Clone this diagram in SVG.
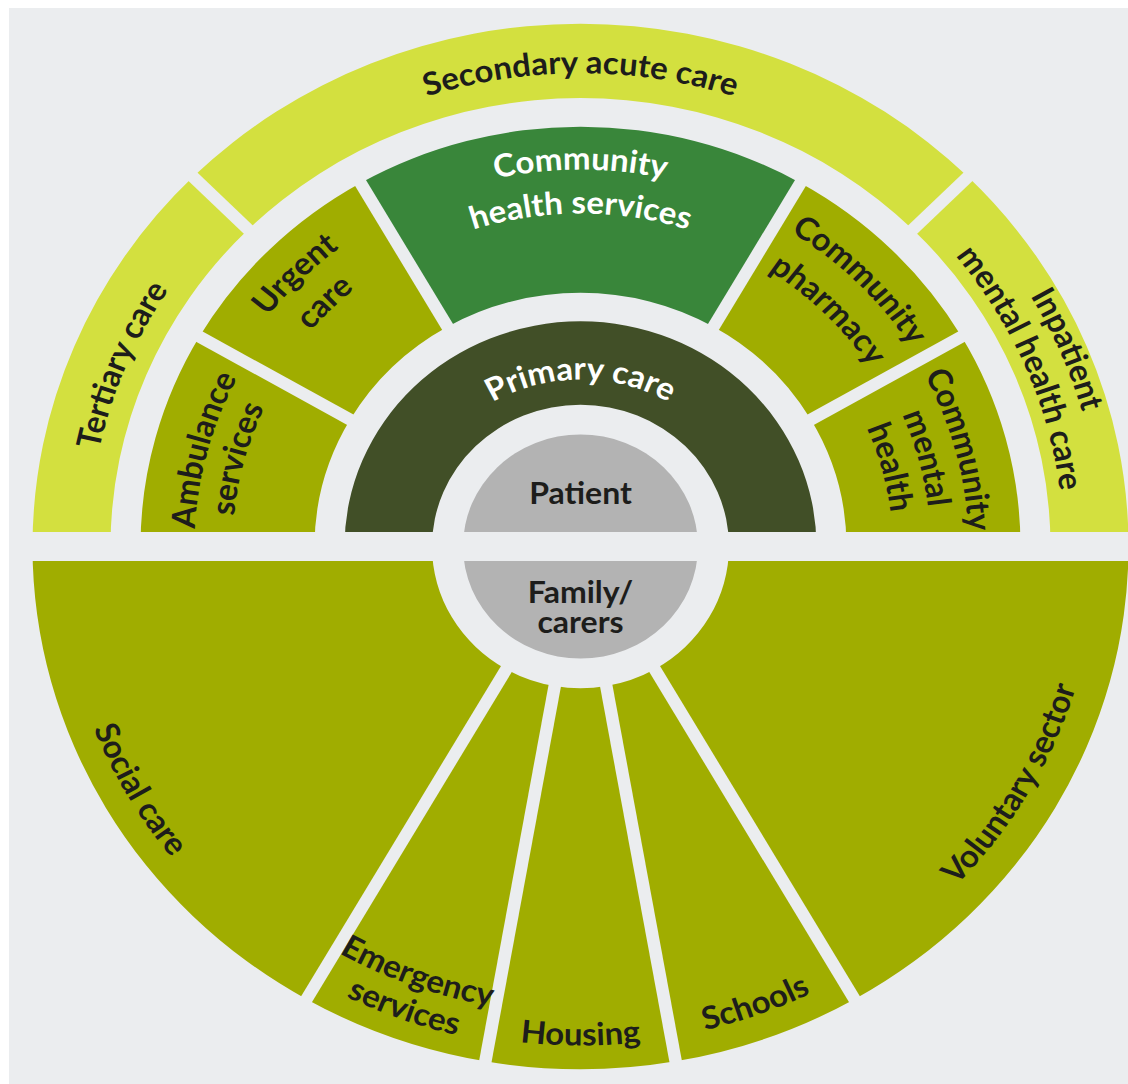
<svg xmlns="http://www.w3.org/2000/svg" width="1128" height="1084" viewBox="0 0 1128 1084">
<style>
.bg{fill:#ebedef}
.outer{fill:#d3e03f}
.olive{fill:#a0ad00}
.chs{fill:#39863a}
.prim{fill:#414f27}
.core{fill:#b3b3b3}
.lbl{font-family:Lato,"Liberation Sans",sans-serif;font-weight:700;font-size:33px;fill:#1d1d1b;text-anchor:middle}
.core-lbl{font-size:32px}
.w{fill:#ffffff}
</style>
<defs>
<mask id="gaps" maskUnits="userSpaceOnUse" x="-620" y="-620" width="1240" height="1240">
<rect x="-620" y="-620" width="1240" height="1240" fill="#fff"/>
<rect x="-620" y="-15.2" width="1240" height="30.4" fill="#000"/>
<g stroke="#000" stroke-width="12.5">
<line x1="216.51" y1="-125" x2="394.04" y2="-227.5"/>
<line x1="125" y1="-216.51" x2="227.5" y2="-394.04"/>
<line x1="-125" y1="-216.51" x2="-227.5" y2="-394.04"/>
<line x1="-216.51" y1="-125" x2="-394.04" y2="-227.5"/>
<line x1="321.73" y1="-321.73" x2="403.05" y2="-403.05"/>
<line x1="-321.73" y1="-321.73" x2="-403.05" y2="-403.05"/>
<line x1="66.5" y1="115.18" x2="285" y2="493.63"/>
<line x1="23.10" y1="130.98" x2="98.98" y2="561.34"/>
<line x1="-23.10" y1="130.98" x2="-98.98" y2="561.34"/>
<line x1="-66.5" y1="115.18" x2="-285" y2="493.63"/>
</g>
</mask>
<path id="p-sec" d="M -318.82 -379.96 A 496 496 0 0 1 318.82 -379.96"/>
<path id="p-ter" d="M -487.79 64.22 A 492 492 0 0 1 -299.51 -390.33"/>
<path id="p-inp1" d="M 276.09 -441.83 A 521 521 0 0 1 509.61 108.32"/>
<path id="p-inp2" d="M 255.95 -409.61 A 483 483 0 0 1 472.45 100.42"/>
<path id="p-amb1" d="M -362.72 132.02 A 386 386 0 0 1 -248.12 -295.69"/>
<path id="p-amb2" d="M -327.01 119.02 A 348 348 0 0 1 -223.69 -266.58"/>
<path id="p-urg1" d="M -389.00 -68.59 A 395 395 0 0 1 -68.59 -389.00"/>
<path id="p-urg2" d="M -346.65 -61.12 A 352 352 0 0 1 -61.12 -346.65"/>
<path id="p-chs1" d="M -253.90 -302.59 A 395 395 0 0 1 253.90 -302.59"/>
<path id="p-chs2" d="M -224.33 -267.35 A 349 349 0 0 1 224.33 -267.35"/>
<path id="p-pha1" d="M 67.90 -385.06 A 391 391 0 0 1 385.06 -67.90"/>
<path id="p-pha2" d="M 59.91 -339.76 A 345 345 0 0 1 339.76 -59.91"/>
<path id="p-cmh1" d="M 274.36 -274.36 A 388 388 0 0 1 374.78 100.42"/>
<path id="p-cmh2" d="M 247.49 -247.49 A 350 350 0 0 1 338.07 90.59"/>
<path id="p-cmh3" d="M 220.62 -220.62 A 312 312 0 0 1 301.37 80.75"/>
<path id="p-prim" d="M -151.55 -87.5 A 175 175 0 0 1 151.55 -87.5"/>
<path id="p-soc" d="M -523 0 A 523 523 0 0 0 -261.5 452.93"/>
<path id="p-eme1" d="M -346.48 346.48 A 490 490 0 0 0 42.71 488.14"/>
<path id="p-eme2" d="M -372.64 372.64 A 527 527 0 0 0 45.93 524.99"/>
<path id="p-hou" d="M -221.03 474.00 A 523 523 0 0 0 221.03 474.00"/>
<path id="p-sch" d="M -45.50 520.01 A 522 522 0 0 0 369.11 369.11"/>
<path id="p-vol" d="M 218.49 468.56 A 517 517 0 0 0 515.03 -45.06"/>
</defs>
<rect width="1128" height="1084" fill="#ffffff"/>
<rect x="9" y="8" width="1119" height="1076" class="bg"/>
<g id="diagram" transform="translate(580.5 546.5) scale(1 0.954)">
<g id="patient">
<path class="core" mask="url(#gaps)" d="M -117.5 0 A 117.5 117.5 0 0 1 117.5 0 Z"/>
<text class="lbl core-lbl" x="0" y="-44.6">Patient</text>
</g>
<g id="family-carers">
<path class="core" mask="url(#gaps)" d="M 117.5 0 A 117.5 117.5 0 0 1 -117.5 0 Z"/>
<text class="lbl core-lbl"><tspan x="0" y="59">Family/</tspan><tspan x="0" y="91">carers</tspan></text>
</g>
<g id="primary-care">
<path class="prim" mask="url(#gaps)" d="M -236 0 A 236 236 0 0 1 236 0 L 148.5 0 A 148.5 148.5 0 0 0 -148.5 0 Z"/>
<text class="lbl w"><textPath href="#p-prim" startOffset="50%">Primary care</textPath></text>
</g>
<g id="ambulance-services">
<path class="olive" mask="url(#gaps)" d="M -440 0 A 440 440 0 0 1 -381.05 -220 L -230.36 -133 A 266 266 0 0 0 -266 0 Z"/>
<text class="lbl"><textPath href="#p-amb1" startOffset="50%">Ambulance</textPath></text>
<text class="lbl"><textPath href="#p-amb2" startOffset="50%">services</textPath></text>
</g>
<g id="urgent-care">
<path class="olive" mask="url(#gaps)" d="M -381.05 -220 A 440 440 0 0 1 -220 -381.05 L -133 -230.36 A 266 266 0 0 0 -230.36 -133 Z"/>
<text class="lbl"><textPath href="#p-urg1" startOffset="50%">Urgent</textPath></text>
<text class="lbl"><textPath href="#p-urg2" startOffset="50%">care</textPath></text>
</g>
<g id="community-health-services">
<path class="chs" mask="url(#gaps)" d="M -220 -381.05 A 440 440 0 0 1 220 -381.05 L 133 -230.36 A 266 266 0 0 0 -133 -230.36 Z"/>
<text class="lbl w"><textPath href="#p-chs1" startOffset="50%">Community</textPath></text>
<text class="lbl w"><textPath href="#p-chs2" startOffset="50%">health services</textPath></text>
</g>
<g id="community-pharmacy">
<path class="olive" mask="url(#gaps)" d="M 220 -381.05 A 440 440 0 0 1 381.05 -220 L 230.36 -133 A 266 266 0 0 0 133 -230.36 Z"/>
<text class="lbl"><textPath href="#p-pha1" startOffset="50%">Community</textPath></text>
<text class="lbl"><textPath href="#p-pha2" startOffset="50%">pharmacy</textPath></text>
</g>
<g id="community-mental-health">
<path class="olive" mask="url(#gaps)" d="M 381.05 -220 A 440 440 0 0 1 440 0 L 266 0 A 266 266 0 0 0 230.36 -133 Z"/>
<text class="lbl"><textPath href="#p-cmh1" startOffset="50%">Community</textPath></text>
<text class="lbl"><textPath href="#p-cmh2" startOffset="50%">mental</textPath></text>
<text class="lbl"><textPath href="#p-cmh3" startOffset="50%">health</textPath></text>
</g>
<g id="tertiary-care">
<path class="outer" mask="url(#gaps)" d="M -548 0 A 548 548 0 0 1 -387.49 -387.49 L -332.34 -332.34 A 470 470 0 0 0 -470 0 Z"/>
<text class="lbl"><textPath href="#p-ter" startOffset="50%">Tertiary care</textPath></text>
</g>
<g id="secondary-acute-care">
<path class="outer" mask="url(#gaps)" d="M -387.49 -387.49 A 548 548 0 0 1 387.49 -387.49 L 332.34 -332.34 A 470 470 0 0 0 -332.34 -332.34 Z"/>
<text class="lbl"><textPath href="#p-sec" startOffset="50%">Secondary acute care</textPath></text>
</g>
<g id="inpatient-mental-health-care">
<path class="outer" mask="url(#gaps)" d="M 387.49 -387.49 A 548 548 0 0 1 548 0 L 470 0 A 470 470 0 0 0 332.34 -332.34 Z"/>
<text class="lbl"><textPath href="#p-inp1" startOffset="50%">Inpatient</textPath></text>
<text class="lbl"><textPath href="#p-inp2" startOffset="50%">mental health care</textPath></text>
</g>
<g id="social-care">
<path class="olive" mask="url(#gaps)" d="M -274 474.58 A 548 548 0 0 1 -548 0 L -148.5 0 A 148.5 148.5 0 0 0 -74.25 128.60 Z"/>
<text class="lbl"><textPath href="#p-soc" startOffset="50%">Social care</textPath></text>
</g>
<g id="emergency-services">
<path class="olive" mask="url(#gaps)" d="M -95.16 539.67 A 548 548 0 0 1 -274 474.58 L -74.25 128.60 A 148.5 148.5 0 0 0 -25.79 146.24 Z"/>
<text class="lbl"><textPath href="#p-eme1" startOffset="50%">Emergency</textPath></text>
<text class="lbl"><textPath href="#p-eme2" startOffset="50%">services</textPath></text>
</g>
<g id="housing">
<path class="olive" mask="url(#gaps)" d="M 95.16 539.67 A 548 548 0 0 1 -95.16 539.67 L -25.79 146.24 A 148.5 148.5 0 0 0 25.79 146.24 Z"/>
<text class="lbl"><textPath href="#p-hou" startOffset="50%">Housing</textPath></text>
</g>
<g id="schools">
<path class="olive" mask="url(#gaps)" d="M 274 474.58 A 548 548 0 0 1 95.16 539.67 L 25.79 146.24 A 148.5 148.5 0 0 0 74.25 128.60 Z"/>
<text class="lbl"><textPath href="#p-sch" startOffset="50%">Schools</textPath></text>
</g>
<g id="voluntary-sector">
<path class="olive" mask="url(#gaps)" d="M 548 0 A 548 548 0 0 1 274 474.58 L 74.25 128.60 A 148.5 148.5 0 0 0 148.5 0 Z"/>
<text class="lbl"><textPath href="#p-vol" startOffset="50%">Voluntary sector</textPath></text>
</g>
</g>
<g id="connectors"/>
</svg>
